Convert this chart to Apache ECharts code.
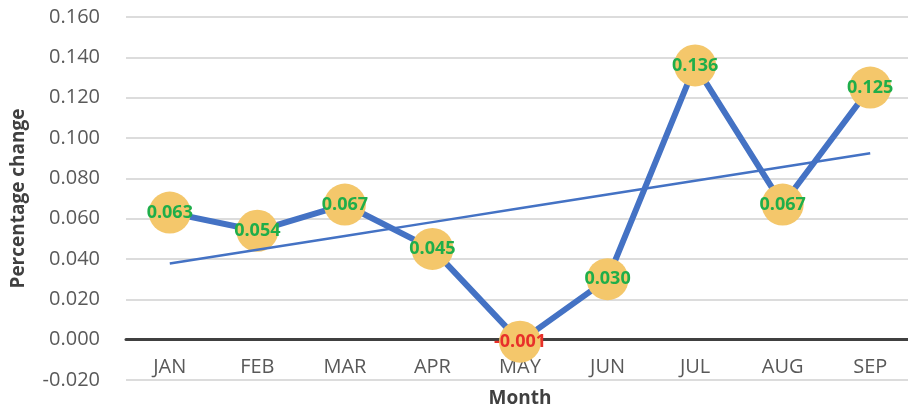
<!DOCTYPE html>
<html>
<head>
<meta charset="utf-8">
<title>Monthly percentage change</title>
<script src="https://cdn.jsdelivr.net/npm/echarts@6/dist/echarts.min.js"></script>
<style>
  html, body { margin: 0; padding: 0; background: #ffffff; }
  #chart { width: 908px; height: 409px; }
</style>
</head>
<body>
<div id="chart"></div>
<script>
// Months on the horizontal axis
const months = ['JAN', 'FEB', 'MAR', 'APR', 'MAY', 'JUN', 'JUL', 'AUG', 'SEP'];
// Percentage change per month
const changes = [0.063, 0.054, 0.067, 0.045, -0.001, 0.030, 0.136, 0.067, 0.125];
// Vertical axis range and step
const yMin = -0.02;
const yMax = 0.16;
const yStep = 0.02;

// Least-squares linear trend through the monthly values
function linearTrend(values) {
  const n = values.length;
  let sx = 0, sy = 0, sxy = 0, sxx = 0;
  values.forEach((v, i) => { sx += i; sy += v; sxy += i * v; sxx += i * i; });
  const slope = (n * sxy - sx * sy) / (n * sxx - sx * sx);
  const intercept = (sy - slope * sx) / n;
  return values.map((_, i) => intercept + slope * i);
}
const trend = linearTrend(changes);

const FONT = '"Open Sans", "Noto Sans", sans-serif';
const chart = echarts.init(document.getElementById('chart'), null, { renderer: 'canvas' });

chart.setOption({
  animation: false,
  backgroundColor: '#ffffff',
  grid: { left: 126, top: 17, width: 788, height: 363, outerBoundsMode: 'none', containLabel: false },
  xAxis: {
    type: 'category',
    data: months,
    boundaryGap: true,
    name: 'Month',
    nameLocation: 'middle',
    nameGap: 9,
    nameTextStyle: { fontFamily: FONT, fontSize: 19, fontWeight: 'bold', color: '#404040' },
    axisLine: { onZero: true, lineStyle: { color: '#404040', width: 3 } },
    axisTick: { show: false },
    axisLabel: { margin: -23, fontFamily: FONT, fontSize: 20, color: '#595959' },
    splitLine: { show: false }
  },
  yAxis: {
    type: 'value',
    min: yMin,
    max: yMax,
    interval: yStep,
    name: 'Percentage change',
    nameLocation: 'middle',
    nameGap: 98,
    nameRotate: 90,
    nameTextStyle: { fontFamily: FONT, fontSize: 19, fontWeight: 'bold', color: '#404040' },
    axisLine: { show: false },
    axisTick: { show: false },
    axisLabel: {
      margin: 26,
      fontFamily: FONT,
      fontSize: 20,
      color: '#595959',
      formatter: v => v.toFixed(3)
    },
    splitLine: { lineStyle: { color: '#d0d0d0', width: 1.5 } }
  },
  series: [
    {
      name: 'Change',
      type: 'line',
      data: changes.map(v => v < 0 ? { value: v, label: { color: '#e8302a' } } : v),
      z: 3,
      lineStyle: { color: '#4472c4', width: 6 },
      symbol: 'circle',
      symbolSize: 42,
      itemStyle: { color: '#f4c76b', borderWidth: 0 },
      label: {
        show: true,
        position: 'inside',
        fontFamily: FONT,
        fontSize: 18,
        fontWeight: 'bold',
        formatter: p => p.value.toFixed(3),
        color: '#1fae4a'
      },
      labelLayout: { hideOverlap: false },
      emphasis: { disabled: true }
    },
    {
      name: 'Trend',
      type: 'line',
      data: trend,
      z: 4,
      symbol: 'none',
      lineStyle: { color: '#4472c4', width: 2.5 },
      silent: true,
      emphasis: { disabled: true }
    }
  ]
});
</script>
</body>
</html>
